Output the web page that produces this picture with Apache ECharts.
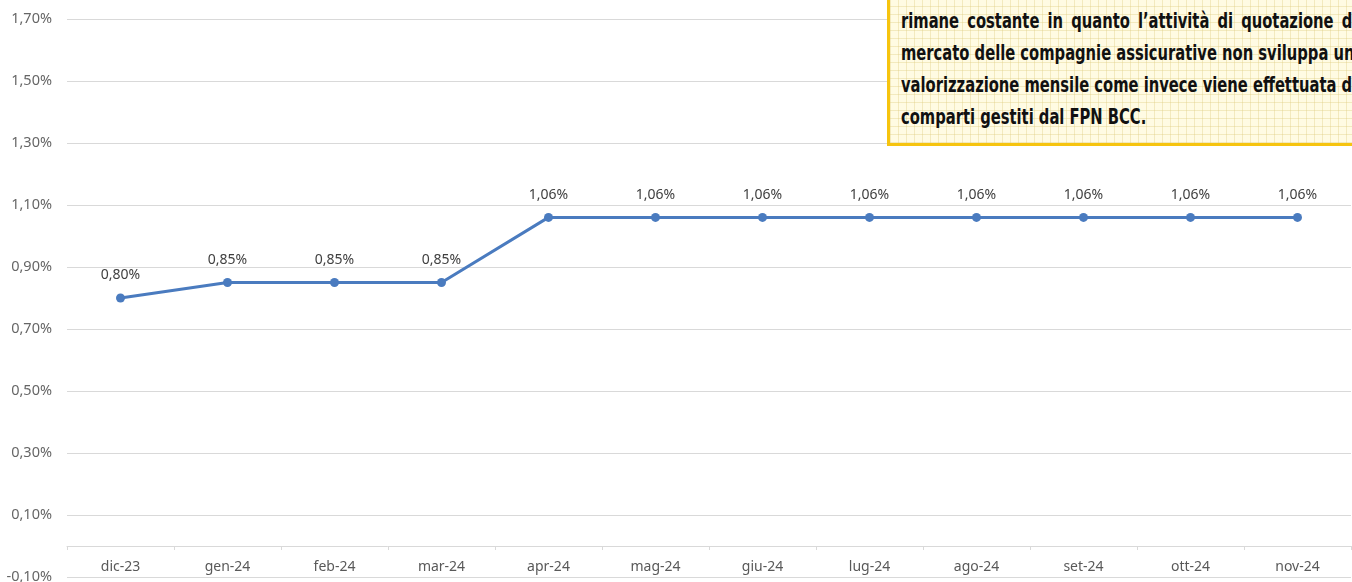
<!DOCTYPE html>
<html>
<head>
	<meta charset="UTF-8">
	<title>rendimento</title>
	<style>
		html, body { margin: 0; padding: 0; background: #fff; }
		#mychart { width: 1352px; height: 582px; }
		.nota {
			position: absolute; left: 887px; top: -27px; width: 520px; height: 173px;
			border: 3px solid #f6c40f; box-sizing: border-box;
			background-color: #fffbe3;
			background-image:
				repeating-linear-gradient(0deg, rgba(220,200,120,0.35) 0 1px, transparent 1px 8px),
				repeating-linear-gradient(90deg, rgba(220,200,120,0.35) 0 1px, transparent 1px 8px);
		}
		.wrap { position: absolute; left: 0; top: 0; width: 1352px; height: 582px; overflow: hidden; }
		.riga {
			position: absolute; left: 11px; width: 585px; height: 32px; line-height: 32px;
			font-family: "DejaVu Sans Condensed", "DejaVu Sans", sans-serif;
			font-weight: bold; font-size: 21px; color: #111;
			text-align: justify; text-align-last: justify; white-space: nowrap;
			transform: scaleX(0.78); transform-origin: 0 0;
		}
		.ultima { text-align-last: left; }
	</style>
</head>
<body>
	<div class="wrap">
		<div id="mychart"></div>
		<div class="nota">
			<div class="riga" style="top:29px">rimane costante in quanto l’attività di quotazione di</div>
			<div class="riga" style="top:61px">mercato delle compagnie assicurative non sviluppa una</div>
			<div class="riga" style="top:93px">valorizzazione mensile come invece viene effettuata dagli</div>
			<div class="riga ultima" style="top:125px">comparti gestiti dal FPN BCC.</div>
		</div>
	</div>
<script type="text/javascript" src="https://cdn.jsdelivr.net/npm/echarts@6/dist/echarts.min.js"></script>
<script type="text/javascript">
	// mesi e valori (%)
	var mesi = ['dic-23','gen-24','feb-24','mar-24','apr-24','mag-24','giu-24','lug-24','ago-24','set-24','ott-24','nov-24'];
	var valori = [0.80, 0.85, 0.85, 0.85, 1.06, 1.06, 1.06, 1.06, 1.06, 1.06, 1.06, 1.06];
	var yMin = -0.1, yMax = 1.7;

	function pct(v){
		return v.toFixed(2).replace('.', ',') + '%';
	}

	var myChart = echarts.init(document.getElementById('mychart'));
	var option = {
		animation: false,
		grid: {
			left: 67,
			right: 1,
			top: 19,
			bottom: 5,
			containLabel: false,
			outerBoundsMode: 'none'
		},
		xAxis: {
			type: 'category',
			data: mesi,
			boundaryGap: true,
			axisLine: { onZero: true, lineStyle: { color: '#d9d9d9', width: 1 } },
			axisTick: { show: true, length: 4, lineStyle: { color: '#d9d9d9' } },
			// le etichette restano sotto lo zero, dentro la griglia
			axisLabel: { color: '#595959', fontSize: 14, fontFamily: 'Noto Sans', margin: -17 }
		},
		yAxis: {
			type: 'value',
			min: yMin,
			max: yMax,
			interval: 0.1,   // linee solo ogni 0,20% (colori alternati)
			axisLine: { show: false },
			axisTick: { show: false },
			axisLabel: {
				color: '#666', fontSize: 14.5, fontFamily: 'Noto Sans', margin: 15,
				formatter: function(v){
					var c = Math.round(v * 100);
					if (c % 20 === 0) return '';
					return pct(v);
				}
			},
			splitLine: {
				show: true,
				lineStyle: { color: ['#d9d9d9', 'rgba(0,0,0,0)'], width: 1 }
			}
		},
		series: [{
			type: 'line',
			data: valori,
			symbol: 'circle',
			symbolSize: 9,
			lineStyle: { color: '#4a7bbf', width: 3 },
			itemStyle: { color: '#4a7bbf' },
			label: {
				show: true,
				position: 'top',
				distance: 11,
				color: '#404040',
				fontSize: 14,
				fontFamily: 'Noto Sans',
				formatter: function(p){ return pct(p.value); }
			}
		}]
	};
	myChart.setOption(option);
</script>
</body>
</html>
